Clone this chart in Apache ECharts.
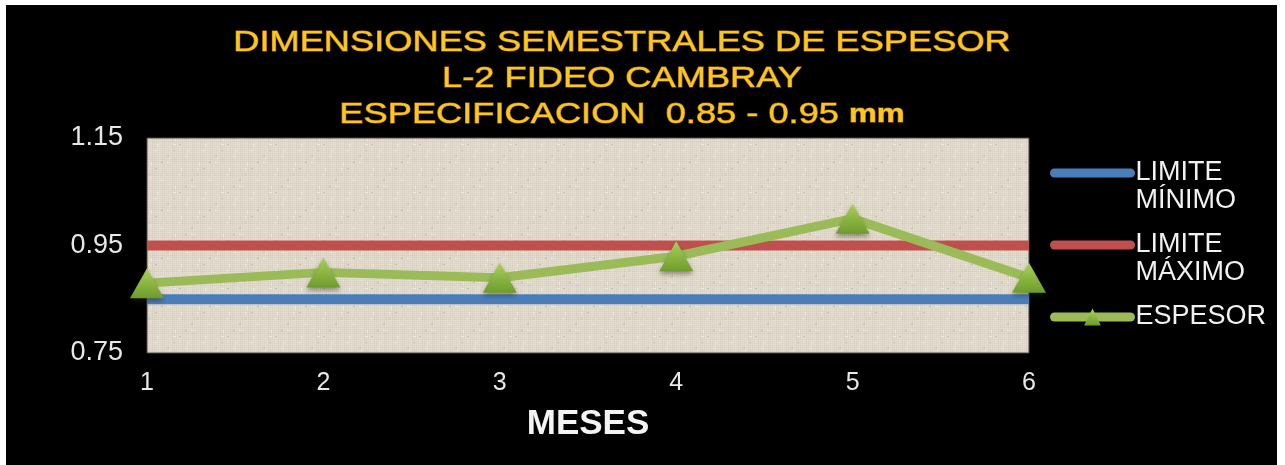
<!DOCTYPE html>
<html>
<head>
<meta charset="utf-8">
<title>Dimensiones semestrales de espesor</title>
<script src="https://cdn.jsdelivr.net/npm/echarts@6/dist/echarts.min.js"></script>
<style>
  html, body { margin: 0; padding: 0; background: #ffffff; }
  #chart { position: absolute; left: 6px; top: 5px; width: 1271px; height: 460px; }
</style>
</head>
<body>
<div id="chart"></div>
<script>
// Months on the x axis
const months = ['1', '2', '3', '4', '5', '6'];
// Specification limits (mm)
const limiteMinimo = [0.85, 0.85, 0.85, 0.85, 0.85, 0.85];
const limiteMaximo = [0.95, 0.95, 0.95, 0.95, 0.95, 0.95];
// Measured thickness per month (mm)
const espesor = [0.88, 0.90, 0.89, 0.93, 1.00, 0.89];
// Value-axis tick labels
const yTicks = [0.75, 0.95, 1.15];

const FONT = '"Liberation Sans", Arial, sans-serif';

// Linen-like fill for the plotting area
function linenPattern() {
  const c = document.createElement('canvas');
  c.width = 48; c.height = 48;
  const g = c.getContext('2d');
  g.fillStyle = '#e6dfd1';
  g.fillRect(0, 0, 48, 48);
  for (let i = 0; i < 48; i += 2) {
    const a = 0.03 + 0.06 * (((i * 7) % 5) / 5);
    g.fillStyle = 'rgba(105,92,72,' + a.toFixed(3) + ')';
    g.fillRect(i, 0, 1, 48);
    const b = 0.03 + 0.06 * (((i * 11) % 7) / 7);
    g.fillStyle = 'rgba(105,92,72,' + b.toFixed(3) + ')';
    g.fillRect(0, i, 48, 1);
  }
  for (let i = 1; i < 48; i += 6) {
    g.fillStyle = 'rgba(255,255,250,0.4)';
    g.fillRect((i * 5) % 48, i, 3, 1);
    g.fillRect(i, (i * 13) % 48, 1, 3);
    g.fillStyle = 'rgba(80,70,55,0.18)';
    g.fillRect((i * 17) % 48, (i * 7) % 48, 2, 1);
  }
  return { image: c, repeat: 'repeat' };
}

const chart = echarts.init(document.getElementById('chart'));

const triangleFill = new echarts.graphic.LinearGradient(0, 0, 0, 1, [
  { offset: 0, color: '#a9d05a' },
  { offset: 1, color: '#6e9c2c' }
]);

chart.setOption({
  backgroundColor: '#000000',
  animation: false,
  graphic: [{
    type: 'text',
    x: 616,
    y: 74,
    scaleX: 1.25,
    style: {
      text: 'DIMENSIONES SEMESTRALES DE ESPESOR\nL-2 FIDEO CAMBRAY\nESPECIFICACION  0.85 - 0.95 {mm|mm}',
      align: 'center',
      verticalAlign: 'middle',
      fill: '#f7c824',
      stroke: '#b86e00',
      lineWidth: 1,
      fontFamily: FONT,
      fontSize: 29,
      lineHeight: 36,
      rich: {
        mm: {
          fontFamily: FONT,
          fontSize: 25,
          fontWeight: 'bold',
          lineHeight: 36,
          fill: '#f7c824',
          stroke: '#b86e00',
          lineWidth: 1
        }
      }
    }
  }],
  grid: {
    left: 141,
    right: 248,
    top: 133,
    height: 215,
    show: true,
    backgroundColor: linenPattern(),
    borderColor: '#4a4540',
    borderWidth: 1
  },
  legend: {
    orient: 'vertical',
    left: 1039,
    top: 121,
    padding: 5,
    itemWidth: 76,
    itemHeight: 21,
    itemGap: -12,
    lineStyle: { width: 9, cap: 'round' },
    // a blank leading line keeps the first line of each label level with its icon
    formatter: name => ' \n' + name + (name.indexOf('\n') < 0 ? '\n ' : ''),
    textStyle: {
      color: '#f2f2f2',
      fontFamily: FONT,
      fontSize: 27,
      lineHeight: 28
    },
    data: [
      { name: 'LIMITE\nMÍNIMO', itemStyle: { opacity: 0 } },
      { name: 'LIMITE\nMÁXIMO', itemStyle: { opacity: 0 } },
      { name: 'ESPESOR' }
    ]
  },
  xAxis: {
    type: 'category',
    data: months,
    boundaryGap: false,
    axisLine: { show: false },
    axisTick: { show: false },
    axisLabel: {
      color: '#e8e8e8',
      fontFamily: FONT,
      fontSize: 25,
      margin: 18
    },
    name: 'MESES',
    nameLocation: 'middle',
    nameGap: 54,
    nameTextStyle: {
      color: '#f4f4f4',
      fontFamily: FONT,
      fontSize: 35,
      fontWeight: 'bold'
    }
  },
  yAxis: {
    type: 'value',
    min: 0.75,
    max: 1.15,
    axisLine: { show: false },
    axisTick: { show: false },
    splitLine: { show: false },
    axisLabel: {
      customValues: yTicks,
      formatter: v => v.toFixed(2),
      color: '#e8e8e8',
      fontFamily: FONT,
      fontSize: 27,
      margin: 24
    }
  },
  series: [
    {
      name: 'LIMITE\nMÍNIMO',
      type: 'line',
      data: limiteMinimo,
      symbol: 'none',
      color: '#4a7ebb',
      lineStyle: { color: '#4a7ebb', width: 10 },
      z: 2
    },
    {
      name: 'LIMITE\nMÁXIMO',
      type: 'line',
      data: limiteMaximo,
      symbol: 'none',
      color: '#c0504d',
      lineStyle: { color: '#c0504d', width: 10 },
      z: 2
    },
    {
      name: 'ESPESOR',
      type: 'line',
      data: espesor,
      symbol: 'triangle',
      symbolSize: [34, 30],
      color: '#9bbb59',
      lineStyle: { color: '#9bbb59', width: 9 },
      itemStyle: {
        color: triangleFill,
        borderWidth: 0,
        shadowBlur: 5,
        shadowOffsetY: 3,
        shadowColor: 'rgba(40,40,20,0.45)'
      },
      z: 3
    }
  ]
});
</script>
</body>
</html>
